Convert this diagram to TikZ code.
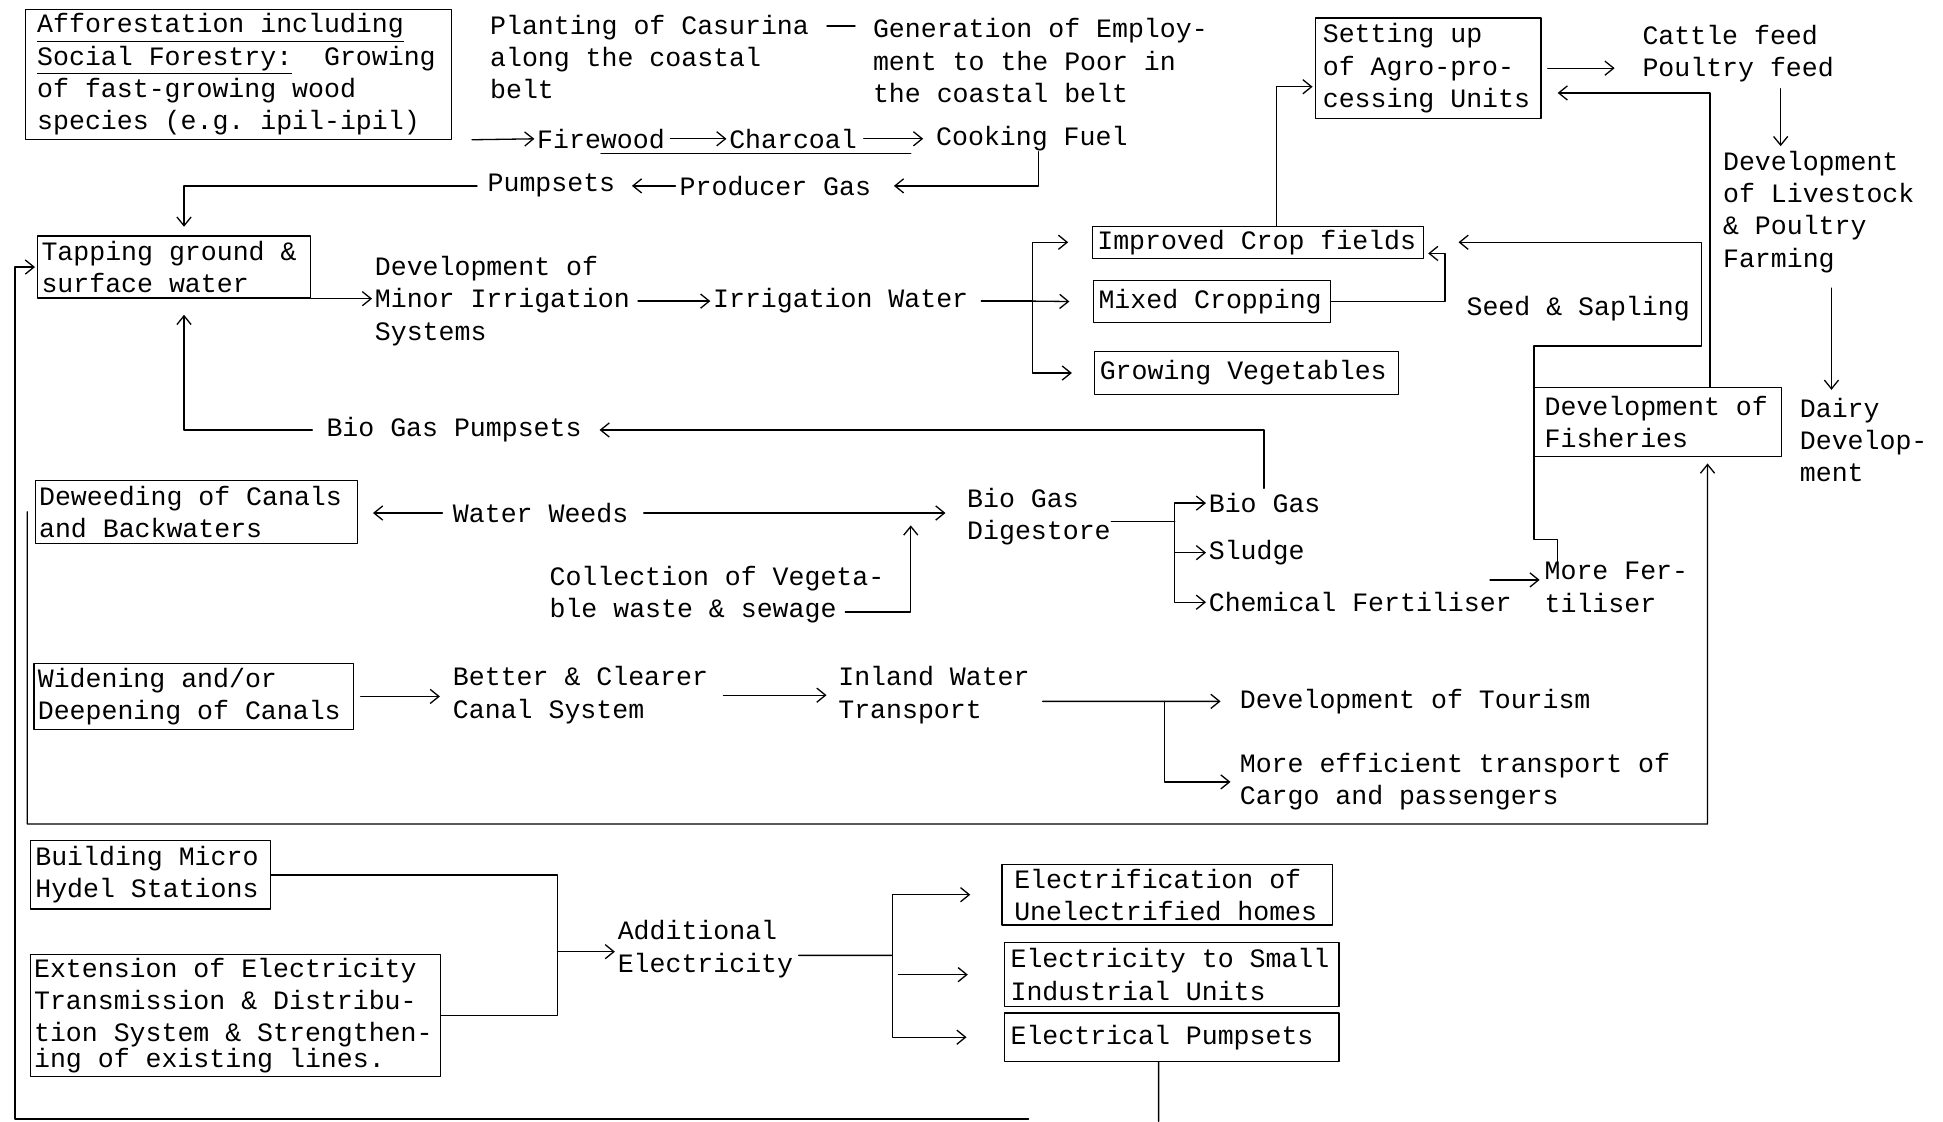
\documentclass[tikz,border=0pt]{standalone}
\usepackage{fontspec}
\setmainfont{Liberation Mono}[WordSpace={1,0,0}]
\usetikzlibrary{arrows.meta}

\tikzset{
  box/.style={draw, align=left, anchor=north west, inner ysep=0pt,
    execute at begin node={\spaceskip=\fontdimen2\font\xspaceskip=\fontdimen2\font}},
  txt/.style={align=left, anchor=west, inner sep=0pt},
}

\begin{document}
\begin{tikzpicture}[x=0.02cm, y=-0.02cm, line width=0.6pt, >={Straight Barb[length=4pt,width=6.5pt]}, font=\fontsize{12.2}{14.8}\selectfont\frenchspacing, line join=round, line cap=round]
	\useasboundingbox (0,0) rectangle (1568,905);
	% boxes
	\node[box, inner xsep=0.19cm, text width=6.5cm, minimum height=2.1cm] (aff) at (20,7) {\underline{Afforestation including}\\\underline{Social Forestry:}\ \ Growing\\of fast-growing wood\\species (e.g. ipil-ipil)};
	\node[box, inner xsep=0.06cm, text width=4.28cm, minimum height=1cm] (tap) at (30,190) {Tapping ground \&\\surface water};
	\node[box, inner xsep=0.06cm, text width=5.08cm, minimum height=1.02cm] (dew) at (28,387) {Deweeding of Canals\\and Backwaters};
	\node[box, inner xsep=0.06cm, text width=5.04cm, minimum height=1.06cm] (wid) at (27,535) {Widening and/or\\Deepening of Canals};
	\node[box, inner xsep=0.08cm, text width=3.72cm, minimum height=1.1cm] (bmh) at (24,678) {Building Micro\\Hydel Stations};
	\node[box, inner xsep=0.06cm, text width=6.5cm, minimum height=1.96cm] (ext) at (24,770) {Extension of Electricity\\Transmission \& Distribu-\\tion System \& Strengthen-\\[-3pt]ing of existing lines.};
	\node[box, inner xsep=0.2cm, text width=4.94cm, minimum height=0.98cm] (elh) at (808,697) {Electrification of\\Unelectrified homes};
	\node[box, inner xsep=0.1cm, text width=5.2cm, minimum height=1.04cm] (eis) at (810,760) {Electricity to Small\\Industrial Units};
	\node[box, inner xsep=0.1cm, text width=5.2cm, minimum height=0.78cm] (ep) at (810,817) {Electrical Pumpsets};
	\node[box, inner xsep=0.08cm, text width=5.18cm, minimum height=0.52cm] (icf) at (881,182) {Improved Crop fields};
	\node[box, inner xsep=0.08cm, text width=3.66cm, minimum height=0.68cm] (mc) at (882,226) {Mixed Cropping};
	\node[box, inner xsep=0.08cm, text width=4.74cm, minimum height=0.7cm] (gv) at (883,283) {Growing Vegetables};
	\node[box, inner xsep=0.12cm, text width=3.4cm, minimum height=1.62cm] (agro) at (1061,14) {Setting up\\of Agro-pro-\\cessing Units};
	\node[box, inner xsep=0.16cm, text width=3.66cm, minimum height=1.12cm] (fish) at (1238,312) {Development of\\Fisheries};
	% plain texts
	\node[txt] (plant) at (395,46) {Planting of Casurina\\along the coastal\\belt};
	\node[txt] (gen) at (704,49) {Generation of Employ-\\ment to the Poor in\\the coastal belt};
	\node[txt] (fire) at (433,112) {Firewood};
	\node[txt] (char) at (588,112) {Charcoal};
	\node[txt] (cook) at (755,112) {Cooking Fuel};
	\node[txt] (prod) at (548,150) {Producer Gas};
	\node[txt] (pump) at (393,150) {Pumpsets};
	\node[txt] (dmi) at (302,243) {Development of\\Minor Irrigation\\Systems};
	\node[txt] (iw) at (575,243) {Irrigation Water};
	\node[txt] (ss) at (1183,249) {Seed \& Sapling};
	\node[txt] (cf) at (1325,43) {Cattle feed\\Poultry feed};
	\node[txt] (dls) at (1390,171) {Development\\of Livestock\\\& Poultry\\Farming};
	\node[txt] (dairy) at (1452,355) {Dairy\\Develop-\\ment};
	\node[txt] (bgp) at (263,347) {Bio Gas Pumpsets};
	\node[txt] (ww) at (365,414) {Water Weeds};
	\node[txt] (bgd) at (780,417) {Bio Gas\\Digestore};
	\node[txt] (cvw) at (443,480) {Collection of Vegeta-\\ble waste \& sewage};
	\node[txt] (bg) at (975,406) {Bio Gas};
	\node[txt] (sl) at (975,446) {Sludge};
	\node[txt] (chf) at (975,486) {Chemical Fertiliser};
	\node[txt] (mf) at (1246,474) {More Fer-\\tiliser};
	\node[txt] (bcc) at (365,561) {Better \& Clearer\\Canal System};
	\node[txt] (iwt) at (676,561) {Inland Water\\Transport};
	\node[txt] (tour) at (1000,566) {Development of Tourism};
	\node[txt] (met) at (1000,631) {More efficient transport of\\Cargo and passengers};
	\node[txt] (ae) at (498,766) {Additional\\Electricity};
	% helper points
	\coordinate (plantdash) at ([shift={(0.28cm,-0.19cm)}]plant.north east);
	\coordinate (fireline) at ([yshift=-0.24cm]fire.center);
	\coordinate (cookdrop) at ([xshift=1.66cm]cook.south west);
	\coordinate (irrsplit) at (833,243);
	\coordinate (mfrise) at ([xshift=0.22cm]mf.north west);
	\coordinate (icfrise) at ([xshift=2.98cm]icf.north west);
	\coordinate (fishrise) at ([xshift=2.84cm]fish.north west);
	\coordinate (cfdrop) at ([xshift=2.24cm]cf.south west);
	\coordinate (dlsdrop) at ([xshift=1.76cm]dls.south west);
	\coordinate (bgrise) at ([xshift=0.9cm]bg.north west);
	\coordinate (wastein) at (735,424);
	\coordinate (cvwend) at ([shift={(-0.64cm,-0.28cm)}]cvw.east);
	\coordinate (digsplit) at (948,421);
	\coordinate (chfup) at ([shift={(-0.36cm,0.36cm)}]chf.east);
	\coordinate (iwtsplit) at (940,566);
	\coordinate (canalrail) at (1378,665);
	\coordinate (elecjoin) at (450,768);
	\coordinate (aesplit) at (720,771);
	\coordinate (epdrop) at ([xshift=2.5cm]ep.south west);
	\coordinate (epout) at (935,905);
	\coordinate (bottomrail) at (830,903);
	% top rows
	\draw[shorten >=0.28cm] (plantdash) -- (plantdash -| gen.west);
	\draw[->, shorten <=0.32cm, shorten >=1pt] (aff.south east) -- (fire.west);
	\draw[->, shorten <=0.08cm, shorten >=1pt] (fire.east) -- (char.west);
	\draw[->, shorten <=0.1cm, shorten >=0.2cm] (char.east) -- (cook.west);
	\draw[shorten >=0.4cm] (fireline) -- (fireline -| cook.west);
	\draw[->, shorten >=0.36cm] (cookdrop) |- (prod.east);
	\draw[->, shorten <=0.06cm, shorten >=0.26cm] (prod.west) -- (pump.east);
	\draw[->, shorten <=0.16cm, shorten >=0.14cm] (pump.west) -| ([xshift=0.16cm]tap.north);
	\draw[->, shorten >=1pt] (tap.south east) -- (tap.south east -| dmi.west);
	\draw[->, shorten <=0.12cm, shorten >=1pt] (dmi.east) -- (iw.west);
	\draw[shorten <=0.2cm] (iw.east) -- (irrsplit);
	\draw[->, shorten >=0.38cm] (irrsplit) |- (icf.west);
	\draw[->, shorten >=0.38cm] (irrsplit) -- (mc.west);
	\draw[->, shorten >=0.36cm] (irrsplit) |- (gv.west);
	\draw[->, shorten >=2pt] (mc.east) -| ([xshift=0.34cm,yshift=-0.18cm]icf.east) -- ([yshift=-0.18cm]icf.east);
	\draw[->, shorten >=0.56cm] (mfrise) -- ++(0,-18) -- ++(-19,0) -- ++(0,-156) -- ++(135,0) |- (icf.east);
	\draw[->, shorten >=1pt] (icfrise) |- ([yshift=-0.3cm]agro.west);
	\draw[->, shorten <=0.1cm, shorten >=0.44cm] (agro.east) -- (agro.east -| cf.west);
	\draw[->, shorten >=0.26cm] (fishrise) |- ([yshift=-0.4cm]agro.east);
	\draw[->, shorten <=0.1cm, shorten >=2pt] (cfdrop) -- (cfdrop |- dls.north);
	\draw[->, shorten <=0.24cm, shorten >=0.12cm] (dlsdrop) -- (dlsdrop |- dairy.north);
	% bio gas
	\draw[->, shorten <=2pt, shorten >=0.28cm] (bgrise) |- (bgp.east);
	\draw[->, shorten <=0.22cm, shorten >=0.26cm] (bgp.west) -| ([xshift=0.16cm]tap.south);
	\draw[->, shorten <=0.16cm, shorten >=0.24cm] (ww.west) -- (ww.west -| dew.east);
	\draw[->, shorten <=0.24cm, shorten >=0.34cm] (ww.east) -- (ww.east -| bgd.west);
	\draw[->] (cvwend) -| (wastein);
	\draw (bgd.east |- digsplit) -- (digsplit);
	\draw[->, shorten >=1pt] (digsplit) |- (bg.west);
	\draw[->, shorten >=1pt] (digsplit) |- (sl.west);
	\draw[->, shorten >=1pt] (digsplit) |- (chf.west);
	\draw[->, shorten >=2pt] (chfup) -- (chfup -| mf.west);
	% canals
	\draw[->, shorten <=0.1cm, shorten >=0.2cm] (wid.east) -- (wid.east -| bcc.west);
	\draw[->, shorten <=0.24cm, shorten >=0.18cm] (bcc.east) -- (bcc.east -| iwt.west);
	\draw[->, shorten <=0.2cm, shorten >=0.3cm] ([yshift=-0.1cm]iwt.east) -- (tour.west);
	\draw[->, shorten >=0.14cm] (iwtsplit) |- (met.west);
	\draw[->, shorten >=0.1cm] ([xshift=-0.12cm]dew.west) |- (canalrail) -- ([xshift=2.8cm]fish.south west);
	% electricity
	\draw (bmh.east) -| (elecjoin);
	\draw (ext.east) -| (elecjoin);
	\draw[->, shorten >=1pt] (elecjoin) -- (elecjoin -| ae.west);
	\draw[shorten <=0.08cm] ([yshift=-0.1cm]ae.east) -- (aesplit);
	\draw[->, shorten >=0.5cm] (aesplit) |- (elh.west);
	\draw[->, shorten <=0.1cm, shorten >=0.58cm] (aesplit |- eis.west) -- (eis.west);
	\draw[->, shorten >=0.6cm] (aesplit) |- (ep.west);
	\draw (epdrop) -- (epout);
	\draw[->, shorten >=1pt] (bottomrail) -| ([xshift=-0.36cm]tap.west) -- (tap.west);
\end{tikzpicture}
\end{document}
